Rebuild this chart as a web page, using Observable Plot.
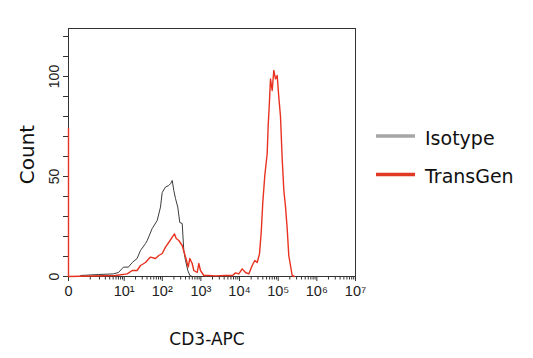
<!DOCTYPE html>
<html>
<head>
<meta charset="utf-8">
<script src="https://cdn.jsdelivr.net/npm/d3@7"></script>
<script src="https://cdn.jsdelivr.net/npm/@observablehq/plot@0.6"></script>
<style>
  html, body { margin: 0; padding: 0; background: #fff; }
  #chart svg { display: block; }
</style>
</head>
<body>
<div id="chart"></div>
<script>
// ---- data (fluorescence intensity, count) ----
const isoX = [0.4, 1.9, 5.1, 7, 9.6, 13, 16.4, 22, 27, 36.6, 40.5, 54.7, 73.7, 89.8, 99.5, 121, 147, 165, 181, 199, 220, 252, 284, 328, 361, 400, 459, 517, 600];
const isoY = [0.5, 1, 1.3, 2, 4.7, 4.7, 7, 9, 13, 16.5, 18, 24, 28, 34.7, 42, 44.7, 45.5, 46.5, 48, 43, 39, 34.7, 27, 26.5, 13, 8, 3, 0.5, 0];

const tgX = [0, 0, 0, 5.8, 12, 16.4, 22, 27, 36.6, 40.5, 49.4, 66.6, 81, 99.5, 121, 147, 181, 207, 230, 268, 328, 376, 424, 470, 517, 596, 656, 803, 883, 977, 1190, 1574, 2390, 4335, 6580, 7866, 9577, 11716, 14265, 17370, 21255, 24816, 28632, 32840, 36336, 39957, 45045, 51926, 55122, 59596, 63206, 69936, 76967, 85126, 94188, 103663, 114642, 126825, 140000, 154461, 170854, 187925, 207966, 230037, 260000];
const tgY = [0, 74, 0, 0.5, 1.3, 3, 3, 5.5, 7, 8, 9.7, 9, 10.5, 11.5, 14.7, 17, 19.7, 21.3, 19, 18, 15.5, 11.5, 8, 4.7, 9, 6.5, 3, 2, 6.5, 3, 0.5, 0.5, 0.3, 0.5, 0.5, 1.8, 1.3, 3.8, 2, 1.3, 5.5, 8, 7, 11.3, 22, 37, 50.5, 61.5, 75.5, 88, 98.8, 93, 103, 98.8, 100.5, 89.7, 80, 59, 43, 35, 24, 10.5, 5.5, 0.5, 0];

const seriesNames = ["Isotype", "TransGen"];
const lineColors = ["#3c3c3c", "#e8321f"];
const legendColors = ["#a6a6a6", "#e03a26"];

const xMajorTicks = [0, 1e1, 1e2, 1e3, 1e4, 1e5, 1e6, 1e7];
const xMinorTicks = [];
for (let m = 1; m <= 9; m++) xMinorTicks.push(m);
for (let k = 1; k <= 6; k++) for (let m = 2; m <= 9; m++) xMinorTicks.push(m * Math.pow(10, k));
const yMinorTicks = d3.range(0, 121, 10);
const yLabelTicks = [0, 50, 100];
const xTitle = "CD3-APC";
const yTitle = "Count";

const sup = {"1":"¹","2":"²","3":"³","4":"⁴","5":"⁵","6":"⁶","7":"⁷"};
const fmtX = v => v === 0 ? "0" : "10" + sup[String(Math.round(Math.log10(v)))];

const iso = isoX.map((x, i) => ({x, y: isoY[i]}));
const tg = tgX.map((x, i) => ({x, y: tgY[i]}));

const tickFont = "'Liberation Sans Narrow', 'Liberation Sans', Arial, sans-serif";
const labelFont = "'DejaVu Sans', sans-serif";

const W = 533, H = 358, ML = 68, MR = 178, MT = 28, MB = 82;

const svg = Plot.plot({
  width: W, height: H,
  marginLeft: ML, marginRight: MR, marginTop: MT, marginBottom: MB,
  style: {background: "#fff", overflow: "visible"},
  x: {type: "symlog", constant: 0.376, domain: [0, 1e7]},
  y: {domain: [0, 124]},
  marks: [
    Plot.frame({stroke: "#333", strokeWidth: 1}),
    Plot.axisX({ticks: xMinorTicks, tickSize: 3.5, tickFormat: () => "", stroke: "#333", label: null}),
    Plot.axisX({ticks: xMajorTicks, tickSize: 5, tickPadding: 4, tickFormat: fmtX, label: null,
                fontSize: 14.5, fontFamily: tickFont, fill: "#222", stroke: "#333"}),
    Plot.axisY({ticks: yMinorTicks, tickSize: 5, tickFormat: () => "", stroke: "#333", label: null}),
    Plot.text(yLabelTicks, {y: d => d, text: d => String(d), frameAnchor: "left", dx: -10,
                rotate: -90, textAnchor: "middle", lineAnchor: "bottom",
                fontSize: 14, fontFamily: tickFont, fill: "#222"}),
    Plot.line(iso, {x: "x", y: "y", stroke: lineColors[0], strokeWidth: 1}),
    Plot.line(tg, {x: "x", y: "y", stroke: lineColors[1], strokeWidth: 1.4}),
    Plot.text([yTitle], {frameAnchor: "left", dx: -40.5, dy: 2, rotate: -90, textAnchor: "middle",
                lineAnchor: "middle", fontSize: 20, fontFamily: labelFont, fill: "#111"}),
    Plot.text([xTitle], {frameAnchor: "bottom", dx: -5, dy: 63, textAnchor: "middle",
                lineAnchor: "middle", fontSize: 17, fontFamily: labelFont, fill: "#111",
                letterSpacing: "1.5px"})
  ]
});

// ---- legend (outside the plot frame) ----
const lg = d3.select(svg).append("g").attr("class", "legend").attr("text-anchor", "start");
const legX = W - MR + 21, legY0 = 136, legStep = 38.5;
seriesNames.forEach((name, i) => {
  const y = legY0 + i * legStep;
  lg.append("line").attr("x1", legX).attr("x2", legX + 39).attr("y1", y).attr("y2", y)
    .attr("stroke", legendColors[i]).attr("stroke-width", 3.5);
  lg.append("text").attr("x", legX + 49).attr("y", y + 8.5)
    .attr("text-anchor", "start")
    .attr("font-family", labelFont).attr("font-size", 19).attr("fill", "#111")
    .text(name);
});

document.getElementById("chart").appendChild(svg);
</script>
</body>
</html>
